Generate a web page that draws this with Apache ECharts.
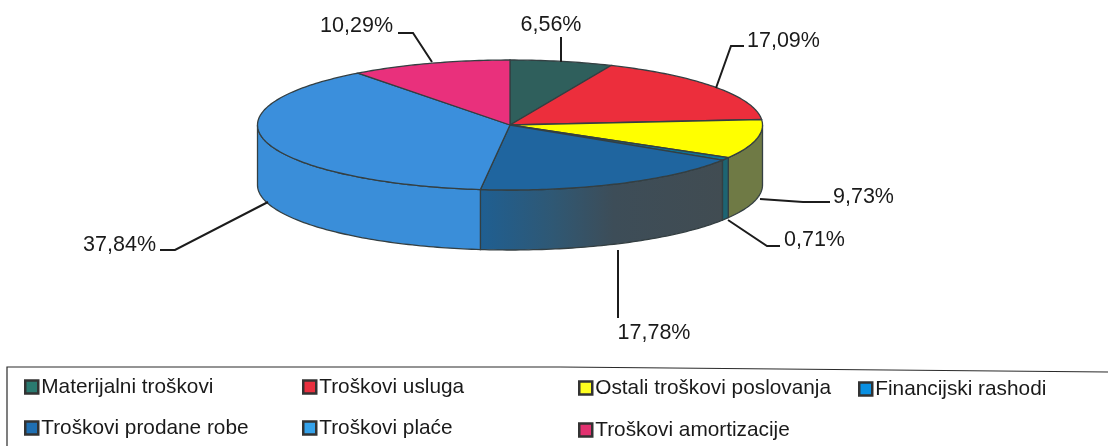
<!DOCTYPE html>
<html>
<head>
<meta charset="utf-8">
<style>html,body{margin:0;padding:0;background:#fff}#c{width:1108px;height:446px}</style>
<script src="https://cdn.jsdelivr.net/npm/echarts@6/dist/echarts.min.js"></script>
</head>
<body>
<div id="c"></div>
<script>
// Data
const categories = ['Materijalni troškovi','Troškovi usluga','Ostali troškovi poslovanja','Financijski rashodi','Troškovi prodane robe','Troškovi plaće','Troškovi amortizacije'];
const shares = [6.56,17.09,9.73,0.71,17.78,37.84,10.29];
const shareLabels = ['6,56%','17,09%','9,73%','0,71%','17,78%','37,84%','10,29%'];

// Styles
const topColors = ['#2f5f5c','#ec2e3c','#ffff00','#0f7396','#1f659f','#3b8fdc','#e9307c'];
const wallColors = ['#2f5f5c','#ec2e3c','#6f7a45','#1d6472',
  {type:'linear',x:0,y:0,x2:1,y2:0,colorStops:[{offset:0,color:'#1f5f92'},{offset:0.3,color:'#2f5874'},{offset:0.55,color:'#3d4d58'},{offset:1,color:'#414c52'}]},
  '#3a8ed9','#e9307c'];
const legendColors = ['#2a7a70','#e8303f','#ffff20','#0a90e2','#1f6fb2','#35a2ea','#e23270'];
const legendPos = [[24,387],[302,387],[578,388],[858,389],[24,428],[302,428],[578,430]];

// Geometry of the tilted disc
const CX = 510, CY = 125, RX = 252.5, RY = 65, DEPTH = 60;
const pt = (deg, dy) => {
  const a = deg * Math.PI / 180;
  return [CX + RX * Math.sin(a), CY - RY * Math.cos(a) + (dy || 0)];
};
// Leader lines and label anchors
const leaders = [
  [[561,62],[561,37]],
  [[716,88],[731,46],[744,46]],
  [[760,199],[803,202],[830,202]],
  [[728,220],[767,246],[780,246]],
  [[618,250],[618,318]],
  [[268,202],[175,250],[160,250]],
  [[432,62],[413,33],[398,33]]
];
const labelPos = [[551,25,'center'],[747,41,'left'],[833,197,'left'],[784,240,'left'],[654,333,'center'],[156,245,'right'],[393,26,'right']];

const total = shares.reduce((a, b) => a + b, 0);
const starts = [];
shares.reduce((acc, v, i) => { starts[i] = acc; return acc + v; }, 0);

function renderSlice(i, api) {
  const a0 = starts[i] / total * 360;
  const a1 = (starts[i] + api.value(0)) / total * 360;
  const children = [];
  // side wall (only the front half of the disc is visible)
  const w0 = Math.max(a0, 90), w1 = Math.min(a1, 270);
  if (w1 > w0) {
    const up = [], down = [];
    for (let d = w0; d < w1; d += 1) { up.push(pt(d)); down.push(pt(d, DEPTH)); }
    up.push(pt(w1)); down.push(pt(w1, DEPTH));
    children.push({
      type:'polygon', shape:{points: up.concat(down.reverse())},
      style:{fill: wallColors[i], stroke:'#343f42', lineWidth:1.3}
    });
  }
  // top face
  const pts = [[CX, CY]];
  for (let d = a0; d < a1; d += 1) pts.push(pt(d));
  pts.push(pt(a1));
  children.push({
    type:'polygon', shape:{points: pts},
    style:{fill: topColors[i], stroke:'#343f42', lineWidth:1.3}
  });
  // leader line
  children.push({
    type:'polyline', shape:{points: leaders[i]},
    style:{fill:null, stroke:'#1c1c1c', lineWidth:2}
  });
  // label
  const lp = labelPos[i];
  children.push({
    type:'text', x:lp[0], y:lp[1],
    style:{text: shareLabels[i], fill:'#1a1a1a', font:'21.5px "Liberation Sans"', align:lp[2], verticalAlign:'middle'}
  });
  return {type:'group', children};
}

const chart = echarts.init(document.getElementById('c'), null, {renderer:'canvas'});
chart.setOption({
  animation:false,
  backgroundColor:'#fff',
  graphic:[
    {type:'polyline', shape:{points:[[7,446],[7,367],[560,367],[1108,372]]}, style:{fill:null, stroke:'#2a2a2a', lineWidth:1.2}, silent:true}
  ],
  legend: categories.map((name, i) => ({
    data:[{name, itemStyle:{color:legendColors[i], borderColor:'#333', borderWidth:2.5}}],
    left:legendPos[i][0], top:legendPos[i][1]-12,
    padding:0, itemWidth:13, itemHeight:13, icon:'rect', selectedMode:false,
    textStyle:{fontFamily:'Liberation Sans', fontSize:20.8, color:'#1a1a1a', lineHeight:24, padding:[0,0,0,-2]}
  })),
  series: categories.map((name, i) => ({
    type:'custom', name, coordinateSystem:'none', silent:true,
    itemStyle:{color:topColors[i]},
    data:[shares[i]],
    renderItem:(params, api) => renderSlice(i, api)
  }))
});
</script>
</body>
</html>
